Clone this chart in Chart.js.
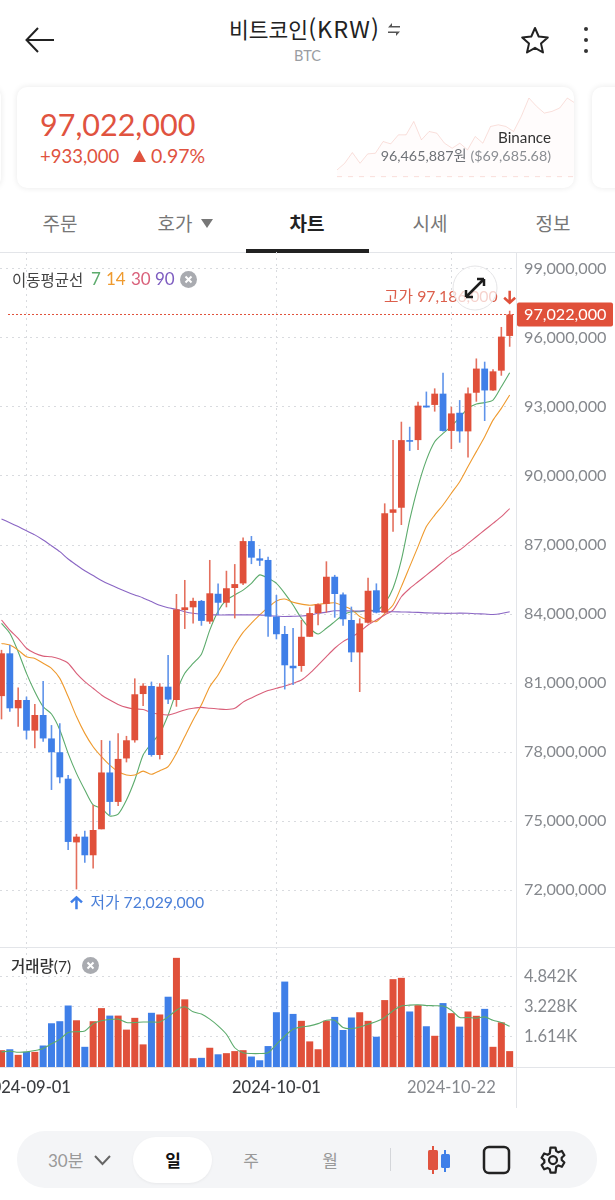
<!DOCTYPE html>
<html lang="ko">
<head>
<meta charset="utf-8">
<title>비트코인(KRW)</title>
<script src="https://cdn.jsdelivr.net/npm/chart.js@4"></script>
<style>
  html, body { margin: 0; padding: 0; background: #fff; }
  body { width: 615px; height: 1200px; position: relative; overflow: hidden;
         font-family: Lato, "Noto Sans CJK KR", sans-serif; color: #222; }
  .abs { position: absolute; white-space: nowrap; line-height: 1; }
  canvas { position: absolute; display: block; }
  .card { position: absolute; top: 87px; height: 101px; background: #fff; border-radius: 10px;
          box-shadow: 0 0 6px rgba(0,0,0,.09); overflow: hidden; }
  .tab { position: absolute; top: 211px; font-size: 19px; line-height: 24px; color: #777;
         font-family: "Noto Sans CJK KR"; transform: translateX(-50%); white-space: nowrap; }
  .line { position: absolute; background: #e3e5e9; }
  .xbtn { position: absolute; width: 17px; height: 17px; border-radius: 50%; background: #a9abb0; }
  .xbtn svg { position: absolute; left: 0; top: 0; }
</style>
</head>
<body>

<!-- header -->
<svg class="abs" style="left:24px;top:26px" width="32" height="28" viewBox="0 0 32 28" fill="none" stroke="#222" stroke-width="2"><path d="M30 14H3M14 2L2.500 14L14 26"/></svg>
<div class="abs" style="left:229px;top:14px;font-size:21.500px;line-height:28px;font-family:'Noto Sans CJK KR';color:#222">비트코인<span style="font-size:23.500px;letter-spacing:1px">(KRW)</span></div>
<svg class="abs" style="left:387px;top:22px" width="14" height="15" viewBox="0 0 14 15" fill="#555"><path d="M5 1V4H13V5.500H1ZM9 14V11H1V9.500H13Z"/></svg>
<div class="abs" style="left:294px;top:49px;font-size:14.500px;color:#9a9da2">BTC</div>
<svg class="abs" style="left:520px;top:26px" width="30" height="28" viewBox="0 0 30 28" fill="none" stroke="#222" stroke-width="2" stroke-linejoin="round"><path d="M15 2L18.700 10.500L27.800 11.400L21 17.600L23 26.500L15 21.800L7 26.500L9 17.600L2.200 11.400L11.300 10.500Z"/></svg>
<svg class="abs" style="left:583px;top:26px" width="6" height="28"><circle cx="3" cy="3" r="2" fill="#333"/><circle cx="3" cy="14" r="2" fill="#333"/><circle cx="3" cy="25" r="2" fill="#333"/></svg>

<!-- price card -->
<div class="card" style="left:-40px;width:41px"></div>
<div class="card" style="left:592px;width:60px"></div>
<div class="card" style="left:17px;width:557px">
  <canvas id="sparkChart" style="left:320px;top:6px"></canvas>
  <div class="abs" style="left:23px;top:22px;font-size:30.500px;color:#e0533f">97,022,000</div>
  <div class="abs" style="left:23px;top:60px;font-size:18.500px;color:#e0533f">+933,000</div>
  <svg class="abs" style="left:116px;top:63px" width="13" height="12"><path d="M6.500 0L13 12H0Z" fill="#e0533f"/></svg>
  <div class="abs" style="left:134px;top:59px;font-size:19.500px;color:#e0533f">0.97%</div>
  <div class="abs" style="right:23px;top:43px;font-size:15.200px;color:#333">Binance</div>
  <div class="abs" style="right:23px;top:62px;font-size:14.300px;color:#8a8d92"><span style="color:#6f7277">96,465,887원</span> ($69,685.68)</div>
</div>

<!-- tabs -->
<div class="tab" style="left:60px">주문</div>
<div class="tab" style="left:175px">호가</div>
<svg class="abs" style="left:201px;top:219px" width="12" height="9"><path d="M0 0H12L6 9Z" fill="#777"/></svg>
<div class="tab" style="left:307px;color:#222;font-weight:700">차트</div>
<div class="tab" style="left:430px">시세</div>
<div class="tab" style="left:553px">정보</div>
<div class="line" style="left:0;top:252px;width:615px;height:1px"></div>
<div class="abs" style="left:246px;top:249px;width:123px;height:4px;background:#222"></div>

<!-- charts -->
<canvas id="priceChart" style="left:0;top:252px"></canvas>
<canvas id="volumeChart" style="left:0;top:947px"></canvas>
<div class="line" style="left:0;top:947px;width:615px;height:1px"></div>
<div class="line" style="left:516px;top:1067px;width:99px;height:1px"></div>

<!-- legends -->
<div class="abs" style="left:12px;top:270px;font-size:15.500px;line-height:18px;color:#444;font-family:'Noto Sans CJK KR'">이동평균선</div>
<div class="abs" style="left:91px;top:270px;font-size:17px;line-height:18px;color:#5cab6c">7</div>
<div class="abs" style="left:106px;top:270px;font-size:17px;line-height:18px;color:#ef9a2e">14</div>
<div class="abs" style="left:131px;top:270px;font-size:17px;line-height:18px;color:#d9607a">30</div>
<div class="abs" style="left:155px;top:270px;font-size:17px;line-height:18px;color:#7d5cc0">90</div>
<div class="xbtn" style="left:180px;top:271px"><svg width="17" height="17" stroke="#fff" stroke-width="2"><path d="M5.500 5.500L11.500 11.500M11.500 5.500L5.500 11.500"/></svg></div>
<div class="abs" style="left:11px;top:956px;font-size:15.500px;line-height:18px;color:#333"><span style="font-family:'Noto Sans CJK KR';font-weight:500">거래량</span>(7)</div>
<div class="xbtn" style="left:82px;top:957px"><svg width="17" height="17" stroke="#fff" stroke-width="2"><path d="M5.500 5.500L11.500 11.500M11.500 5.500L5.500 11.500"/></svg></div>

<!-- fullscreen button over the chart -->
<svg class="abs" style="left:452px;top:265px" width="46" height="46" fill="none">
  <circle cx="23" cy="23" r="22" fill="rgba(255,255,255,.72)" stroke="#e4e4e6" stroke-width="1"/>
  <path d="M14 32L32 14M14 32V25M14 32H21M32 14V21M32 14H25" stroke="#1c1c1c" stroke-width="2.500"/>
</svg>

<!-- bottom toolbar -->
<div class="abs" style="left:17px;top:1131px;width:580px;height:57px;background:#f4f5f7;border-radius:28px"></div>
<div class="abs" style="left:133px;top:1137px;width:79px;height:46px;background:#fff;border-radius:23px;box-shadow:0 1px 3px rgba(0,0,0,.05)"></div>
<div class="abs" style="left:48px;top:1151px;font-size:17px;line-height:18px;color:#999"><span>30</span><span style="font-family:'Noto Sans CJK KR'">분</span></div>
<svg class="abs" style="left:94px;top:1155px" width="17" height="11" fill="none" stroke="#666" stroke-width="2"><path d="M1 1L8.500 9L16 1"/></svg>
<div class="abs" style="left:173px;top:1150px;transform:translateX(-50%);font-size:17px;line-height:20px;font-weight:700;font-family:'Noto Sans CJK KR';color:#111">일</div>
<div class="abs" style="left:251px;top:1150px;transform:translateX(-50%);font-size:17px;line-height:20px;font-family:'Noto Sans CJK KR';color:#999">주</div>
<div class="abs" style="left:330px;top:1150px;transform:translateX(-50%);font-size:17px;line-height:20px;font-family:'Noto Sans CJK KR';color:#999">월</div>
<div class="abs" style="left:390px;top:1148px;width:1px;height:23px;background:#d4d6da"></div>
<svg class="abs" style="left:426px;top:1145px" width="26" height="30"><path d="M7 1V29" stroke="#e0533f" stroke-width="2"/><rect x="2" y="5" width="10" height="20" rx="1.500" fill="#e0533f"/><path d="M19 5V27" stroke="#3f7fe8" stroke-width="2"/><rect x="15" y="9" width="9" height="14" rx="1.500" fill="#3f7fe8"/></svg>
<svg class="abs" style="left:482px;top:1145px" width="29" height="30" fill="none"><rect x="2" y="2" width="25" height="26" rx="5" stroke="#222" stroke-width="2.500"/></svg>
<svg class="abs" style="left:538px;top:1145px" width="30" height="30" viewBox="0 0 24 24" fill="none" stroke="#222" stroke-width="1.800" stroke-linejoin="round"><circle cx="12" cy="12" r="3.200"/><path d="M10 2h4l.6 2.900 1.700.9 2.800-1 2 3.400-2.200 2 .1 1.800 2.100 2-2 3.400-2.800-1-1.700 1L14 22h-4l-.6-2.700-1.700-.9-2.800 1-2-3.400 2.200-2-.1-1.900-2.100-1.900 2-3.400 2.800 1 1.700-1z"/></svg>
<div class="line" style="left:516px;top:1067px;width:1px;height:41px"></div>

<script>
// day list, 2024-08-29 .. 2024-10-29
const dates = [
  '2024-08-29','2024-08-30','2024-08-31','2024-09-01','2024-09-02','2024-09-03','2024-09-04','2024-09-05','2024-09-06','2024-09-07',
  '2024-09-08','2024-09-09','2024-09-10','2024-09-11','2024-09-12','2024-09-13','2024-09-14','2024-09-15','2024-09-16','2024-09-17',
  '2024-09-18','2024-09-19','2024-09-20','2024-09-21','2024-09-22','2024-09-23','2024-09-24','2024-09-25','2024-09-26','2024-09-27',
  '2024-09-28','2024-09-29','2024-09-30','2024-10-01','2024-10-02','2024-10-03','2024-10-04','2024-10-05','2024-10-06','2024-10-07',
  '2024-10-08','2024-10-09','2024-10-10','2024-10-11','2024-10-12','2024-10-13','2024-10-14','2024-10-15','2024-10-16','2024-10-17',
  '2024-10-18','2024-10-19','2024-10-20','2024-10-21','2024-10-22','2024-10-23','2024-10-24','2024-10-25','2024-10-26','2024-10-27',
  '2024-10-28','2024-10-29'
];

// prices in million KRW
const opens = [
  80.43,82.29,79.90,80.26,78.93,79.61,78.59,77.99,76.84,74.07,
  74.32,73.51,74.64,77.11,75.83,77.72,78.51,80.52,80.87,77.87,
  80.84,80.26,84.17,84.29,84.57,83.67,84.88,84.49,85.13,85.33,
  87.17,86.42,86.35,83.89,83.13,81.75,81.74,83.01,84.04,84.44,
  85.62,84.85,83.74,82.33,83.62,85.03,84.06,88.40,88.62,91.56,
  91.56,93.06,93.09,93.58,91.96,92.75,91.94,93.62,94.67,93.72,
  94.58,96.09
];
const closes = [
  82.29,79.90,80.26,78.93,79.61,78.59,77.99,76.90,74.09,74.32,
  73.51,74.61,77.11,75.83,77.70,78.51,80.51,80.88,77.87,80.84,
  80.28,84.20,84.29,84.57,83.70,84.90,84.49,85.12,85.30,87.17,
  86.45,86.32,83.89,83.12,81.77,81.64,83.01,84.04,84.42,85.62,
  84.87,83.77,82.33,83.59,85.01,84.06,88.38,88.55,91.56,91.49,
  93.06,92.98,93.58,91.96,92.72,91.94,93.59,94.67,93.72,94.55,
  96.06,97.022
];
const highs = [
  82.44,82.65,80.80,80.41,80.09,81.09,79.17,79.25,77.00,74.44,
  74.58,75.70,78.52,78.49,78.81,78.70,81.20,80.99,81.06,80.99,
  82.22,84.87,85.48,84.71,84.61,86.35,85.33,85.88,86.17,87.33,
  87.39,86.83,86.49,84.83,83.48,83.39,83.74,84.29,84.46,86.29,
  85.70,84.93,84.32,83.81,85.58,85.33,88.81,91.56,92.36,92.14,
  93.23,93.67,93.81,94.49,93.01,93.30,93.85,95.11,94.97,94.64,
  96.48,97.186
];
const lows = [
  79.42,79.75,79.10,78.55,78.16,78.45,76.35,76.64,73.74,72.029,
  73.19,72.94,74.64,75.26,75.65,77.55,78.41,80.00,77.80,77.68,
  80.09,79.97,83.35,83.59,83.49,83.57,83.96,84.29,83.81,85.26,
  86.17,86.09,83.01,82.90,80.72,80.91,81.49,83.01,83.51,84.06,
  83.84,83.49,81.91,80.61,83.59,84.03,84.03,87.58,87.87,91.09,
  91.13,92.98,92.80,91.93,91.17,91.45,90.80,93.23,92.39,93.71,
  94.36,95.62
];

const ma7 = [
  83.59,83.16,82.36,81.42,80.62,79.97,79.65,78.96,77.94,77.07,
  76.35,75.70,75.55,75.22,75.30,75.91,76.78,77.87,78.38,78.81,
  79.61,80.62,81.42,81.85,82.25,83.30,84.12,84.61,84.83,85.04,
  85.33,85.70,85.55,85.33,84.90,84.39,83.81,83.38,83.13,83.38,
  83.67,83.96,84.10,84.10,84.17,84.15,84.46,85.12,86.35,88.09,
  89.54,90.69,91.49,91.85,92.17,92.55,92.94,93.13,93.19,93.30,
  93.88,94.49
];
const ma14 = [
  82.72,82.65,82.43,82.14,82.07,81.86,81.64,81.20,80.41,79.54,
  78.81,78.23,77.80,77.43,77.15,77.00,77.00,77.17,77.03,77.19,
  77.36,77.94,78.67,79.39,80.05,80.84,81.35,82.00,82.65,83.20,
  83.60,83.96,84.29,84.57,84.65,84.51,84.43,84.38,84.42,84.46,
  84.49,84.35,84.20,83.89,83.74,83.67,84.03,84.39,85.19,86.06,
  86.93,87.80,88.30,88.74,89.25,89.75,90.41,91.06,91.71,92.43,
  92.94,93.52
];
const ma30 = [
  83.74,83.30,82.94,82.51,82.29,82.17,82.14,82.04,81.86,81.42,
  81.06,80.77,80.48,80.26,80.07,79.94,79.87,79.85,79.71,79.64,
  79.61,79.71,79.83,79.90,79.94,79.90,79.87,79.85,79.90,80.17,
  80.35,80.52,80.67,80.77,80.87,80.99,81.13,81.42,81.78,82.15,
  82.51,82.80,82.99,83.23,83.52,83.74,83.96,84.17,84.75,85.11,
  85.40,85.69,85.98,86.28,86.57,86.78,87.07,87.36,87.65,87.94,
  88.23,88.58
];
const ma90 = [
  88.13,87.97,87.80,87.62,87.44,87.22,86.97,86.71,86.39,86.13,
  85.88,85.67,85.46,85.28,85.12,84.97,84.83,84.70,84.54,84.38,
  84.27,84.20,84.10,84.03,83.99,83.97,83.96,83.96,83.96,83.96,
  83.96,83.96,83.93,83.91,83.89,83.90,83.91,83.95,84.03,84.08,
  84.14,84.14,84.13,84.13,84.14,84.12,84.10,84.10,84.09,84.08,
  84.07,84.05,84.04,84.03,84.03,84.04,84.03,84.01,84.00,83.98,
  84.02,84.10
];

// volume in K
const volumes = [
  0.90,0.95,0.65,0.81,0.81,1.15,2.34,2.45,3.29,2.50,
  1.08,2.45,3.15,2.75,2.75,2.00,2.63,1.21,2.90,2.81,
  3.76,5.84,3.62,0.47,0.49,1.03,0.68,0.74,0.85,0.90,
  0.56,0.36,1.12,2.93,4.57,2.84,2.47,1.37,0.95,2.48,
  2.68,1.98,2.65,2.93,2.47,1.62,3.58,4.70,4.77,2.97,
  3.31,2.18,1.67,3.42,2.88,2.16,2.97,2.74,3.11,1.08,
  2.39,0.85
];
const volumeMa7 = [
  0.81,0.85,0.79,0.81,0.88,0.99,1.24,1.48,1.84,1.89,
  1.93,2.32,2.47,2.54,2.56,2.38,2.38,2.41,2.41,2.41,
  2.68,3.04,3.22,2.95,2.83,2.56,2.20,1.75,1.03,0.76,
  0.72,0.72,0.76,1.21,1.66,2.02,2.14,2.20,2.32,2.50,
  2.50,2.11,2.05,2.14,2.29,2.43,2.65,3.01,3.26,3.31,
  3.33,3.29,3.28,3.26,3.04,2.65,2.65,2.61,2.68,2.50,
  2.38,2.18
];

// faint price line behind the card
const sparkValues = [20,40,72,40,68,70,105,98,125,125,165,110,135,130,100,85,100,80,120,100,150,155,150,135,180,235,210,190,195,205,235,220];

const priceTicks = [72,75,78,81,84,87,90,93,96,99];
const volumeTicks = [1.614,3.228,4.842];
const dateTicks = [3,33,54];

const RED = '#e0503a';
const BLUE = '#3f7fe8';
const GRID = '#d9dbdf';
const AXIS = '#e3e5e9';
const FONT = 'Lato, "Noto Sans CJK KR", sans-serif';

const xRange = { min: -0.18, max: 61.76 };
const candleColors = closes.map((c, i) => c >= opens[i] ? RED : BLUE);
const wickColors = closes.map((c, i) => c >= opens[i] ? '#e4705e' : '#5f93ea');

function money(v) {
  return Math.round(v * 1e6).toLocaleString('en-US');
}

function xAxis(extra) {
  return Object.assign({
    type: 'linear',
    min: xRange.min,
    max: xRange.max,
    offset: false,
    afterBuildTicks: s => { s.ticks = dateTicks.map(v => ({ value: v })); },
    grid: { color: GRID, offset: false, drawTicks: false },
    border: { display: false, dash: [2, 4] }
  }, extra);
}

function lineSet(values, color, order) {
  return {
    type: 'line',
    data: values.map((v, i) => ({ x: i, y: v })),
    borderColor: color,
    borderWidth: 1.1,
    pointRadius: 0,
    tension: 0.25,
    order: order
  };
}

// price line, price tag and high / low notes
const pricePlugin = {
  id: 'priceNotes',
  afterDatasetsDraw(chart) {
    const { ctx, scales } = chart;
    const last = closes[closes.length - 1];
    const y = scales.y.getPixelForValue(last);
    ctx.save();
    ctx.strokeStyle = RED;
    ctx.lineWidth = 1;
    ctx.setLineDash([2, 2]);
    ctx.beginPath();
    ctx.moveTo(8, y);
    ctx.lineTo(chart.chartArea.right, y);
    ctx.stroke();
    ctx.setLineDash([]);

    ctx.fillStyle = RED;
    ctx.beginPath();
    ctx.roundRect(chart.chartArea.right + 1, y - 12, 96, 24, 2);
    ctx.fill();
    ctx.fillStyle = '#fff';
    ctx.font = '16.2px ' + FONT;
    ctx.textAlign = 'left';
    ctx.textBaseline = 'middle';
    ctx.fillText(money(last), chart.chartArea.right + 8, y + 0.5);

    const hi = Math.max(...highs);
    const hiX = scales.x.getPixelForValue(highs.indexOf(hi));
    const hiY = scales.y.getPixelForValue(hi);
    ctx.fillStyle = '#dc5f4c';
    ctx.font = '15.8px ' + FONT;
    ctx.textAlign = 'right';
    ctx.fillText('고가 ' + money(hi), hiX - 12, hiY - 14);
    arrow(ctx, hiX, hiY - 14, 1, RED);

    const lo = Math.min(...lows);
    const loX = scales.x.getPixelForValue(lows.indexOf(lo));
    const loY = scales.y.getPixelForValue(lo);
    ctx.fillStyle = '#4a7fd8';
    ctx.textAlign = 'left';
    ctx.fillText('저가 ' + money(lo), loX + 14, loY + 14);
    arrow(ctx, loX, loY + 14, -1, BLUE);
    ctx.restore();
  }
};

function arrow(ctx, x, y, dir, color) {
  ctx.strokeStyle = color;
  ctx.lineWidth = 2.5;
  ctx.beginPath();
  ctx.moveTo(x, y - 6 * dir);
  ctx.lineTo(x, y + 6 * dir);
  ctx.moveTo(x - 5.5, y + 1 * dir);
  ctx.lineTo(x, y + 6 * dir);
  ctx.lineTo(x + 5.5, y + 1 * dir);
  ctx.stroke();
}

const priceCanvas = document.getElementById('priceChart');
priceCanvas.width = 615;
priceCanvas.height = 695;
new Chart(priceCanvas, {
  type: 'bar',
  data: {
    datasets: [
      lineSet(ma90, '#8a66c4', 2),
      lineSet(ma30, '#d9607a', 2),
      lineSet(ma14, '#ef9a2e', 2),
      lineSet(ma7, '#5cab6c', 2),
      {
        data: highs.map((h, i) => ({ x: i, y: [lows[i], h] })),
        backgroundColor: wickColors,
        barThickness: 1.6,
        inflateAmount: 0,
        grouped: false,
        order: 1
      },
      {
        data: opens.map((o, i) => ({ x: i, y: [o, closes[i]] })),
        backgroundColor: candleColors,
        barThickness: 6.8,
        inflateAmount: 0,
        grouped: false,
        order: 0
      }
    ]
  },
  options: {
    responsive: false,
    animation: false,
    layout: { padding: 0 },
    plugins: { legend: { display: false }, tooltip: { enabled: false } },
    scales: {
      x: xAxis({ ticks: { display: false }, afterFit: s => { s.height = 0; s.paddingLeft = 0; s.paddingRight = 0; } }),
      y: {
        position: 'right',
        min: 69.522,
        max: 99.739,
        afterBuildTicks: s => { s.ticks = priceTicks.map(v => ({ value: v })); },
        afterFit: s => { s.width = 99; s.paddingTop = 0; s.paddingBottom = 0; },
        grid: { color: GRID, drawTicks: false },
        border: { color: AXIS, dash: [2, 4] },
        ticks: {
          padding: 8,
          color: '#85888d',
          font: { family: FONT, size: 16.2 },
          callback: v => money(v)
        }
      }
    }
  },
  plugins: [pricePlugin]
});

const volumeCanvas = document.getElementById('volumeChart');
volumeCanvas.width = 615;
volumeCanvas.height = 161;
new Chart(volumeCanvas, {
  type: 'bar',
  data: {
    datasets: [
      lineSet(volumeMa7, '#5cab6c', 0),
      {
        data: volumes.map((v, i) => ({ x: i, y: v })),
        backgroundColor: candleColors,
        barThickness: 7,
        inflateAmount: 0,
        order: 1
      }
    ]
  },
  options: {
    responsive: false,
    animation: false,
    layout: { padding: 0 },
    plugins: { legend: { display: false }, tooltip: { enabled: false } },
    scales: {
      x: xAxis({
        afterFit: s => { s.height = 41; s.paddingLeft = 0; s.paddingRight = 0; },
        border: { display: true, color: AXIS, dash: [2, 4] },
        ticks: {
          autoSkip: false,
          maxRotation: 0,
          padding: 11,
          color: c => c.tick && c.tick.value === 54 ? '#85888d' : '#3a3c40',
          font: c => ({ family: FONT, size: 16.5, weight: c.tick && c.tick.value === 54 ? 'normal' : '500' }),
          callback: v => dates[v]
        }
      }),
      y: {
        position: 'right',
        min: 0,
        max: 6.42,
        afterBuildTicks: s => { s.ticks = volumeTicks.map(v => ({ value: v })); },
        afterFit: s => { s.width = 99; s.paddingTop = 0; s.paddingBottom = 0; },
        grid: { color: GRID, drawTicks: false },
        border: { color: AXIS, dash: [2, 4] },
        ticks: {
          padding: 8,
          color: '#85888d',
          font: { family: FONT, size: 16.5 },
          callback: v => v.toFixed(3) + 'K'
        }
      }
    }
  }
});

const sparkCanvas = document.getElementById('sparkChart');
sparkCanvas.width = 238;
sparkCanvas.height = 87;
new Chart(sparkCanvas, {
  type: 'line',
  data: {
    labels: sparkValues.map((v, i) => i),
    datasets: [
      {
        data: sparkValues,
        borderColor: 'rgba(224,83,63,.18)',
        borderWidth: 1,
        backgroundColor: 'rgba(224,83,63,.015)',
        fill: 'origin',
        pointRadius: 0
      },
      {
        data: sparkValues.map(() => 0),
        borderColor: 'rgba(224,83,63,.18)',
        borderWidth: 1,
        borderDash: [5, 6],
        pointRadius: 0
      }
    ]
  },
  options: {
    responsive: false,
    animation: false,
    layout: { padding: 0 },
    plugins: { legend: { display: false }, tooltip: { enabled: false } },
    scales: {
      x: { display: false },
      y: { display: false, min: -10, max: 250 }
    }
  }
});
</script>
</body>
</html>
